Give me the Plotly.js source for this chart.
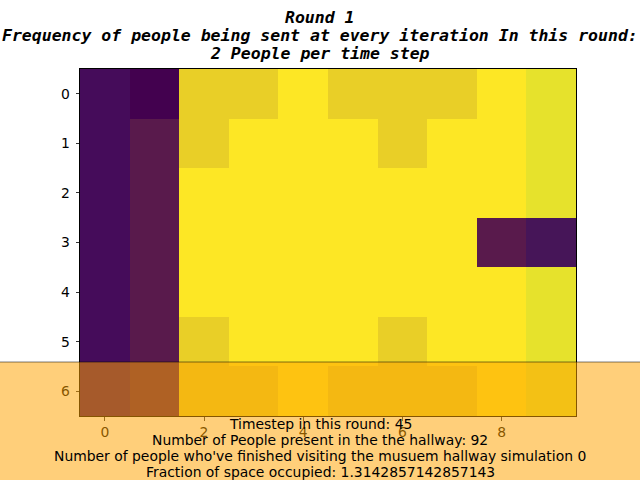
<!DOCTYPE html>
<html>
<head>
<meta charset="utf-8">
<script src="https://cdn.plot.ly/plotly-3.0.1.min.js"></script>
<style>html,body{margin:0;padding:0;background:#fff}#chart{width:640px;height:480px}</style>
</head>
<body>
<div id="chart"></div>
<script>
// Grid columns / rows
const columns = [0, 1, 2, 3, 4, 5, 6, 7, 8, 9];
const rows = [0, 1, 2, 3, 4, 5, 6];
// Frequency values per cell (rows 0..6)
const row0 = [1, 0, 8, 8, 10, 8, 8, 8, 10, 9];
const row1 = [1, 3, 8, 10, 10, 10, 8, 10, 10, 9];
const row2 = [1, 3, 10, 10, 10, 10, 10, 10, 10, 9];
const row3 = [1, 3, 10, 10, 10, 10, 10, 10, 3, 2];
const row4 = [1, 3, 10, 10, 10, 10, 10, 10, 10, 9];
const row5 = [1, 3, 8, 10, 10, 10, 8, 10, 10, 9];
const row6 = [1, 3, 8, 8, 10, 8, 8, 8, 10, 9];
const xTicks = [0, 2, 4, 6, 8];
const titleLines = [
  "Round 1",
  "Frequency of people being sent at every iteration In this round:",
  "2 People per time step"
];
const infoLines = [
  "Timestep in this round: 45",
  "Number of People present in the the hallway: 92",
  "Number of people who've finished visiting the musuem hallway simulation 0",
  "Fraction of space occupied: 1.3142857142857143"
];

const z = [row0, row1, row2, row3, row4, row5, row6];

const colorscale = [
  [0.0, '#43014f'],
  [0.1, '#450c5a'],
  [0.2, '#461558'],
  [0.3, '#591a4c'],
  [0.8, '#e9cf27'],
  [0.9, '#e6e22c'],
  [1.0, '#fde725']
];

const trace = {
  type: 'heatmap',
  x: columns,
  y: rows,
  z: z,
  zmin: 0,
  zmax: 10,
  colorscale: colorscale,
  showscale: false,
  hoverinfo: 'skip'
};

const L = 80, R = 64, T = 69, B = 64;
const plotH = 480 - T - B;
const plotW = 640 - L - R;
const py = p => (480 - B - p) / plotH;
const px = p => (p - L) / plotW;

const annotations = [];
const titleY = [17, 35, 53];
titleLines.forEach((t, i) => {
  annotations.push({
    text: t, xref: 'paper', yref: 'paper', x: px(320), y: py(titleY[i]),
    xanchor: 'center', yanchor: 'middle', showarrow: false,
    font: {family: 'DejaVu Sans Mono', size: 16.5, weight: 'bold', style: 'italic', color: '#000'}
  });
});
const infoY = [424, 440, 456, 472];
infoLines.forEach((t, i) => {
  annotations.push({
    text: t, xref: 'paper', yref: 'paper', x: px(320), y: py(infoY[i]),
    xanchor: 'center', yanchor: 'middle', showarrow: false,
    font: {family: 'DejaVu Sans', size: 13.9, color: '#000'}
  });
});

const axisCommon = {
  showgrid: false, zeroline: false, showline: true, linecolor: '#000', linewidth: 1,
  mirror: true, ticks: 'outside', ticklen: 3.5, tickwidth: 0.8, tickcolor: '#000',
  tickfont: {family: 'DejaVu Sans', size: 13.9, color: '#000'}
};

const layout = {
  width: 640, height: 480,
  margin: {l: L, r: R, t: T, b: B, pad: 0},
  paper_bgcolor: '#fff', plot_bgcolor: '#fff',
  showlegend: false,
  xaxis: Object.assign({}, axisCommon, {
    range: [-0.5, 9.5], tickmode: 'array', tickvals: xTicks, ticktext: xTicks.map(String)
  }),
  yaxis: Object.assign({}, axisCommon, {
    range: [6.5, -0.5], tickmode: 'array', tickvals: rows, ticktext: rows.map(String),
    ticklabelstandoff: 3
  }),
  shapes: [{
    type: 'rect', xref: 'paper', yref: 'paper', layer: 'above',
    x0: px(-5), x1: px(645), y0: py(362), y1: py(500),
    fillcolor: 'rgba(255,163,0,0.52)',
    line: {color: 'rgba(0,0,0,0.5)', width: 1}
  }],
  annotations: annotations
};

Plotly.newPlot('chart', [trace], layout, {displayModeBar: false, staticPlot: true});
</script>
</body>
</html>
